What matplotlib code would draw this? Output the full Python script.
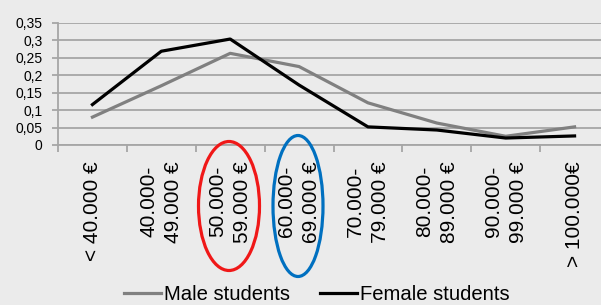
import matplotlib
matplotlib.use("Agg")
import matplotlib.pyplot as plt
from matplotlib.patches import Ellipse

# === Data ===
categories = ["< 40.000 €", "40.000-\n49.000 €", "50.000-\n59.000 €", "60.000-\n69.000 €",
              "70.000-\n79.000 €", "80.000-\n89.000 €", "90.000-\n99.000 €", "> 100.000€"]
male = [0.080, 0.170, 0.263, 0.225, 0.121, 0.063, 0.025, 0.052]
female = [0.116, 0.269, 0.304, 0.172, 0.052, 0.043, 0.020, 0.026]
y_ticks = [0, 0.05, 0.1, 0.15, 0.2, 0.25, 0.3, 0.35]
y_labels = ["0", "0,05", "0,1", "0,15", "0,2", "0,25", "0,3", "0,35"]

# === Style ===
bg = "#ebebeb"
grid_col = "#a6a6a6"
plt.rcParams["font.family"] = ["Liberation Sans", "DejaVu Sans"]

W, H = 601, 305
fig = plt.figure(figsize=(W / 100, H / 100), dpi=100, facecolor=bg)
ax = fig.add_axes([58 / W, 1 - 145 / H, 551 / W, 122 / H], facecolor=bg)

x = [i + 0.5 for i in range(len(categories))]
ax.plot(x, male, color="#808080", lw=2.3, label="Male students")
ax.plot(x, female, color="black", lw=2.3, label="Female students")

ax.set_xlim(0, len(categories))
ax.set_ylim(0, 0.35)

# y axis
ax.set_yticks(y_ticks)
ax.set_yticklabels(y_labels, fontsize=10)
ax.tick_params(axis="y", length=4, width=1.3, color=grid_col, pad=7)
ax.grid(axis="y", color=grid_col, lw=1.3)
ax.set_axisbelow(True)

# x axis: ticks at boundaries, labels at centers
ax.set_xticks(range(len(categories) + 1))
ax.set_xticklabels([])
ax.tick_params(axis="x", which="major", length=5, width=1.3, color=grid_col)
ax.set_xticks(x, minor=True)
ax.set_xticklabels(categories, minor=True, rotation=90, fontsize=15,
                   multialignment="center", linespacing=1.4)
ax.tick_params(axis="x", which="minor", length=0, pad=11.5)

for s in ["top", "right"]:
    ax.spines[s].set_visible(False)
for s in ["left", "bottom"]:
    ax.spines[s].set_color(grid_col)
    ax.spines[s].set_linewidth(1.3)

# === Legend ===
fig.legend(loc="center", bbox_to_anchor=(0.527, 0.035), ncol=2, frameon=False,
           prop={"size": 14.6}, handlelength=1.8,
           handletextpad=0.15, columnspacing=1.5, borderaxespad=0)

# === Highlight ellipses ===
fig.patches.append(Ellipse((229 / W, 1 - 206 / H), 61 / W, 129 / H, transform=fig.transFigure,
                           fill=False, edgecolor="#f01818", lw=2.3))
fig.patches.append(Ellipse((298 / W, 1 - 206 / H), 50 / W, 141 / H, transform=fig.transFigure,
                           fill=False, edgecolor="#0070c0", lw=2.3))

fig.savefig("out.png", dpi=100, facecolor=bg)
